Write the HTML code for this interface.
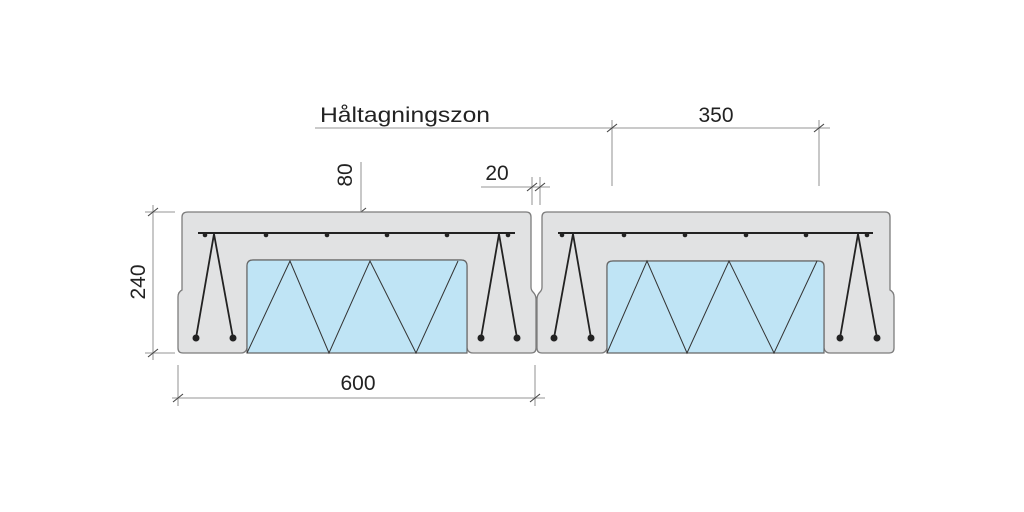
<!DOCTYPE html>
<html><head><meta charset="utf-8"><style>
html,body{margin:0;padding:0;background:#fff;}
svg{display:block;}
text{font-family:"Liberation Sans",sans-serif;font-size:21px;fill:#222;}
</style></head><body>
<svg width="1024" height="512" viewBox="0 0 1024 512" xmlns="http://www.w3.org/2000/svg">
<g stroke="#aaa" stroke-width="1.3" fill="none">
  <line x1="315" y1="128" x2="830" y2="128"/>
  <line x1="612" y1="120" x2="612" y2="186"/>
  <line x1="819" y1="120" x2="819" y2="186"/>
  <line x1="361" y1="162" x2="361" y2="272"/>
  <line x1="481" y1="187" x2="550" y2="187"/>
  <line x1="532" y1="177" x2="532" y2="205"/>
  <line x1="540" y1="177" x2="540" y2="205"/>
  <line x1="153" y1="205" x2="153" y2="360"/>
  <line x1="145" y1="212" x2="175" y2="212"/>
  <line x1="145" y1="353" x2="175" y2="353"/>
  <line x1="172" y1="398" x2="545" y2="398"/>
  <line x1="178" y1="365" x2="178" y2="406"/>
  <line x1="535" y1="365" x2="535" y2="406"/>
</g>
<g stroke="#444" stroke-width="1.1">
  <line x1="607" y1="132" x2="617" y2="124"/>
  <line x1="814" y1="132" x2="824" y2="124"/>
  <line x1="356" y1="216" x2="366" y2="208"/>
  <line x1="356" y1="266" x2="366" y2="258"/>
  <line x1="527" y1="191" x2="537" y2="183"/>
  <line x1="535" y1="191" x2="545" y2="183"/>
  <line x1="148" y1="216" x2="158" y2="208"/>
  <line x1="148" y1="357" x2="158" y2="349"/>
  <line x1="173" y1="402" x2="183" y2="394"/>
  <line x1="530" y1="402" x2="540" y2="394"/>
</g>
<text x="320" y="122" font-size="22" textLength="170" lengthAdjust="spacingAndGlyphs">Håltagningszon</text>
<text x="716" y="122" text-anchor="middle" font-size="22">350</text>
<text x="497" y="180" text-anchor="middle" font-size="22">20</text>
<text x="358" y="390" text-anchor="middle" font-size="22">600</text>
<text transform="translate(352,175) rotate(-90)" text-anchor="middle" font-size="22">80</text>
<text transform="translate(145,282) rotate(-90)" text-anchor="middle" font-size="22">240</text>

<path d="M188,212 H526 Q531,212 531,217 V287 Q531,290 533,292 Q536,295 536,299 V348 Q536,353 531,353 H473 Q468,353 467,348 V266 Q467,260 461,260 H253 Q247,260 247,266 V348 Q246,353 241,353 H183 Q178,353 178,348 V297 Q178,292 182,290 V217 Q182,212 188,212 Z" fill="#e1e2e3" stroke="#7c7c7c" stroke-width="1.3"/>
<path d="M247,353 V266 Q247,260 253,260 H461 Q467,260 467,266 V353 Z" fill="#bfe4f5" stroke="#666" stroke-width="1.2"/>
<polyline points="247,353 290,261 329,353 370,261 416,353 458,261" fill="none" stroke="#333" stroke-width="1"/>
<line x1="198" y1="233" x2="515" y2="233" stroke="#222" stroke-width="2"/>
<g fill="#222">
<circle cx="205" cy="235" r="2.3"/><circle cx="266" cy="235" r="2.3"/><circle cx="327" cy="235" r="2.3"/><circle cx="387" cy="235" r="2.3"/><circle cx="447" cy="235" r="2.3"/><circle cx="508" cy="235" r="2.3"/>
<circle cx="196" cy="338" r="3.5"/><circle cx="233" cy="338" r="3.5"/><circle cx="481" cy="338" r="3.5"/><circle cx="517" cy="338" r="3.5"/>
</g>
<polyline points="196,338 214,234 233,338" fill="none" stroke="#222" stroke-width="1.8"/>
<polyline points="481,338 499,234 517,338" fill="none" stroke="#222" stroke-width="1.8"/>

<path d="M547,212 H885 Q890,212 890,217 V290 Q894,292 894,297 V348 Q894,353 889,353 H830 Q825,353 824,348 V266 Q824,261 818,261 H613 Q607,261 607,266 V348 Q606,353 601,353 H542 Q537,353 537,348 V299 Q537,295 540,292 Q542,290 542,287 V217 Q542,212 547,212 Z" fill="#e1e2e3" stroke="#7c7c7c" stroke-width="1.3"/>
<path d="M607,353 V266 Q607,261 613,261 H818 Q824,261 824,266 V353 Z" fill="#bfe4f5" stroke="#666" stroke-width="1.2"/>
<polyline points="607,353 647,261 687,353 729,261 774,353 817,261" fill="none" stroke="#333" stroke-width="1"/>
<line x1="558" y1="233" x2="873" y2="233" stroke="#222" stroke-width="2"/>
<g fill="#222">
<circle cx="562" cy="235" r="2.3"/><circle cx="624" cy="235" r="2.3"/><circle cx="685" cy="235" r="2.3"/><circle cx="746" cy="235" r="2.3"/><circle cx="806" cy="235" r="2.3"/><circle cx="867" cy="235" r="2.3"/>
<circle cx="554" cy="338" r="3.5"/><circle cx="591" cy="338" r="3.5"/><circle cx="840" cy="338" r="3.5"/><circle cx="877" cy="338" r="3.5"/>
</g>
<polyline points="554,338 573,234 591,338" fill="none" stroke="#222" stroke-width="1.8"/>
<polyline points="840,338 858,234 877,338" fill="none" stroke="#222" stroke-width="1.8"/>
</svg>
</body></html>
